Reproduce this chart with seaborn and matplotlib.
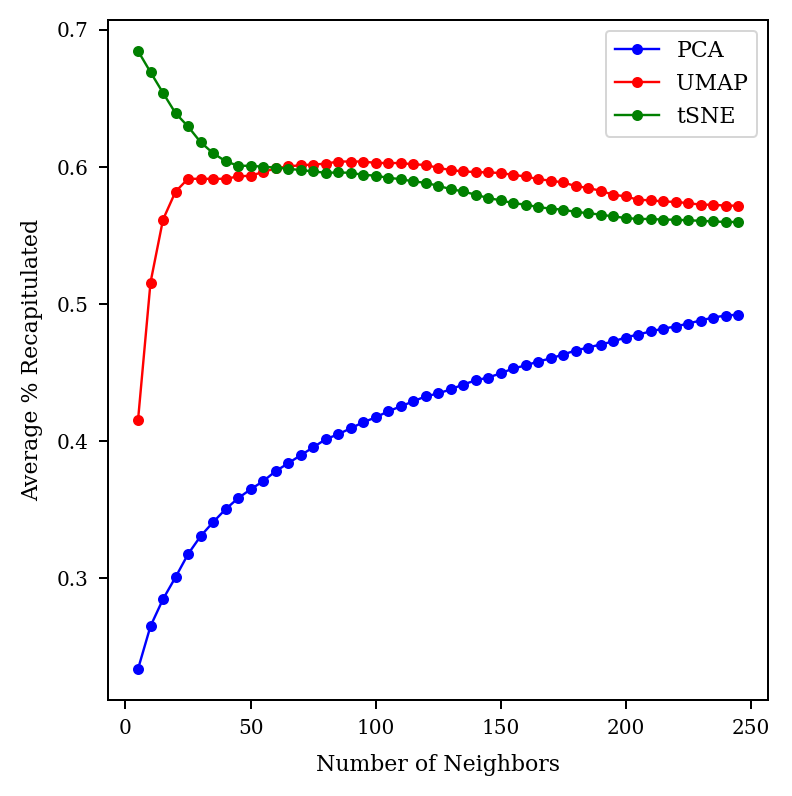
import numpy as np
import pandas as pd
import matplotlib
matplotlib.use("Agg")
import matplotlib.pyplot as plt
import seaborn as sns

neighbors = list(range(5, 250, 5))

pca = [0.2337, 0.2650, 0.2847, 0.3007, 0.3175, 0.3306, 0.3408, 0.3503, 0.3583, 0.3648,
       0.3707, 0.3780, 0.3838, 0.3896, 0.3954, 0.4013, 0.4050, 0.4093, 0.4137, 0.4173,
       0.4217, 0.4253, 0.4290, 0.4326, 0.4348, 0.4377, 0.4413, 0.4443, 0.4464, 0.4494,
       0.4530, 0.4552, 0.4581, 0.4603, 0.4632, 0.4661, 0.4683, 0.4705, 0.4727, 0.4756,
       0.4778, 0.4800, 0.4821, 0.4836, 0.4858, 0.4880, 0.4902, 0.4916, 0.4923]

umap = [0.4151, 0.5157, 0.5616, 0.5820, 0.5914, 0.5914, 0.5914, 0.5914, 0.5931, 0.5937,
        0.5963, 0.5990, 0.6004, 0.6013, 0.6018, 0.6024, 0.6040, 0.6040, 0.6040, 0.6030,
        0.6029, 0.6029, 0.6020, 0.6015, 0.5994, 0.5978, 0.5968, 0.5963, 0.5961, 0.5956,
        0.5943, 0.5931, 0.5912, 0.5900, 0.5888, 0.5861, 0.5847, 0.5827, 0.5798, 0.5786,
        0.5761, 0.5757, 0.5749, 0.5745, 0.5737, 0.5725, 0.5725, 0.5718, 0.5718]

tsne = [0.6847, 0.6692, 0.6541, 0.6393, 0.6296, 0.6182, 0.6101, 0.6043, 0.6009, 0.6009,
        0.6002, 0.5996, 0.5987, 0.5978, 0.5968, 0.5958, 0.5960, 0.5958, 0.5943, 0.5937,
        0.5921, 0.5912, 0.5895, 0.5885, 0.5863, 0.5839, 0.5822, 0.5798, 0.5774, 0.5757,
        0.5737, 0.5725, 0.5708, 0.5696, 0.5689, 0.5672, 0.5664, 0.5652, 0.5640, 0.5628,
        0.5621, 0.5621, 0.5616, 0.5616, 0.5611, 0.5608, 0.5603, 0.5599, 0.5599]

series_names = ["PCA", "UMAP", "tSNE"]
series_colors = ["blue", "red", "green"]

plt.rcParams["font.family"] = ["DejaVu Serif"]
plt.rcParams["axes.linewidth"] = 1.0
for a in ("xtick", "ytick"):
    plt.rcParams[f"{a}.major.size"] = 4.5
    plt.rcParams[f"{a}.major.width"] = 1.0
    plt.rcParams[f"{a}.major.pad"] = 5
    plt.rcParams[f"{a}.labelsize"] = 10

df = pd.DataFrame({"Number of Neighbors": neighbors, "PCA": pca, "UMAP": umap, "tSNE": tsne})

fig = plt.figure(figsize=(792 / 144, 796 / 144), dpi=144)
ax = fig.add_axes([108 / 792, 1 - 700 / 796, (768 - 108) / 792, (700 - 20) / 796])

for name, col in zip(series_names, series_colors):
    sns.lineplot(data=df, x="Number of Neighbors", y=name, ax=ax, color=col, label=name,
                 marker="o", markersize=4.5, markeredgecolor=col, markeredgewidth=1,
                 linewidth=1.2)

ax.set_xlabel("Number of Neighbors", fontsize=11, labelpad=8)
ax.set_ylabel("Average % Recapitulated", fontsize=11, labelpad=7)
ax.set_xticks([0, 50, 100, 150, 200, 250])
ax.set_yticks([0.3, 0.4, 0.5, 0.6, 0.7])
ax.legend(loc="upper right", fontsize=11)

fig.savefig("out.png", dpi=144)
